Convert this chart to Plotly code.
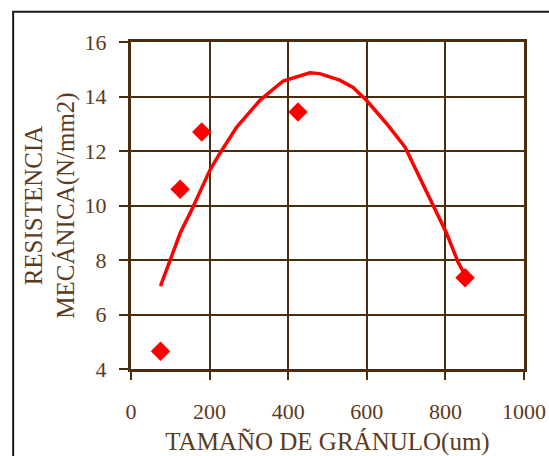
import plotly.graph_objects as go

# Measured data points (granule size in um, mechanical strength N/mm2)
size_um = [75, 125, 180, 425, 850]
strength = [4.65, 10.6, 12.7, 13.43, 7.35]

# Trend curve
curve_x = [75, 103, 125, 154, 201, 226, 269, 328, 387, 455, 480, 531, 565, 599, 650, 697, 726, 760, 803, 832, 850]
curve_y = [7.04, 8.12, 8.98, 9.83, 11.3, 11.91, 12.88, 13.86, 14.57, 14.87, 14.84, 14.6, 14.33, 13.86, 13.01, 12.15, 11.3, 10.26, 8.98, 7.93, 7.45]

x_ticks = [0, 200, 400, 600, 800, 1000]
y_ticks = [4, 6, 8, 10, 12, 14, 16]

W, H = 549, 456
L, R, T, B = 131, 549 - 524.5, 41.7, 456 - 369
TEXT = "#5b3b1c"
LINE = "#4a2d0c"
FONT = "Liberation Serif"

fig = go.Figure()
fig.add_trace(go.Scatter(x=curve_x, y=curve_y, mode="lines",
                         line=dict(color="#ff0000", width=3.5), showlegend=False,
                         hoverinfo="skip"))
fig.add_trace(go.Scatter(x=size_um, y=strength, mode="markers",
                         marker=dict(symbol="diamond", size=15, color="#ff0000"),
                         showlegend=False))

pw = W - L - R
ph = H - T - B
def px_x(p):
    return (p - L) / pw
def px_y(p):
    return 1 - (p - T) / ph

fig.add_shape(type="rect", xref="paper", yref="paper",
              x0=px_x(13), x1=px_x(620), y0=px_y(11.5), y1=px_y(520),
              line=dict(color="#1a1a1a", width=2), fillcolor="rgba(0,0,0,0)", layer="below")

fig.update_xaxes(range=[0, 1000], tickvals=x_ticks, ticktext=[str(v) for v in x_ticks],
                 showline=True, linecolor=LINE, linewidth=3, mirror=True,
                 showgrid=True, gridcolor=LINE, gridwidth=2, zeroline=False,
                 ticks="outside", ticklen=8, tickwidth=2, tickcolor=LINE,
                 ticklabelstandoff=13,
                 tickfont=dict(family=FONT, size=22, color=TEXT),
                 title=dict(text="TAMAÑO DE GRÁNULO(um)", standoff=10,
                            font=dict(family=FONT, size=25, color=TEXT)))
fig.update_yaxes(range=[4, 16], tickvals=y_ticks, ticktext=[str(v) for v in y_ticks],
                 showline=True, linecolor=LINE, linewidth=3, mirror=True,
                 showgrid=True, gridcolor=LINE, gridwidth=2, zeroline=False,
                 ticks="outside", ticklen=9, tickwidth=2, tickcolor=LINE,
                 ticklabelstandoff=8,
                 tickfont=dict(family=FONT, size=22, color=TEXT),
                 title=dict(text="RESISTENCIA<br>MECÁNICA(N/mm2)", standoff=3,
                            font=dict(family=FONT, size=25, color=TEXT)))

fig.update_layout(width=W, height=H, margin=dict(l=L, r=R, t=T, b=B, autoexpand=False),
                  paper_bgcolor="white", plot_bgcolor="white")

fig.write_html("out.html")
